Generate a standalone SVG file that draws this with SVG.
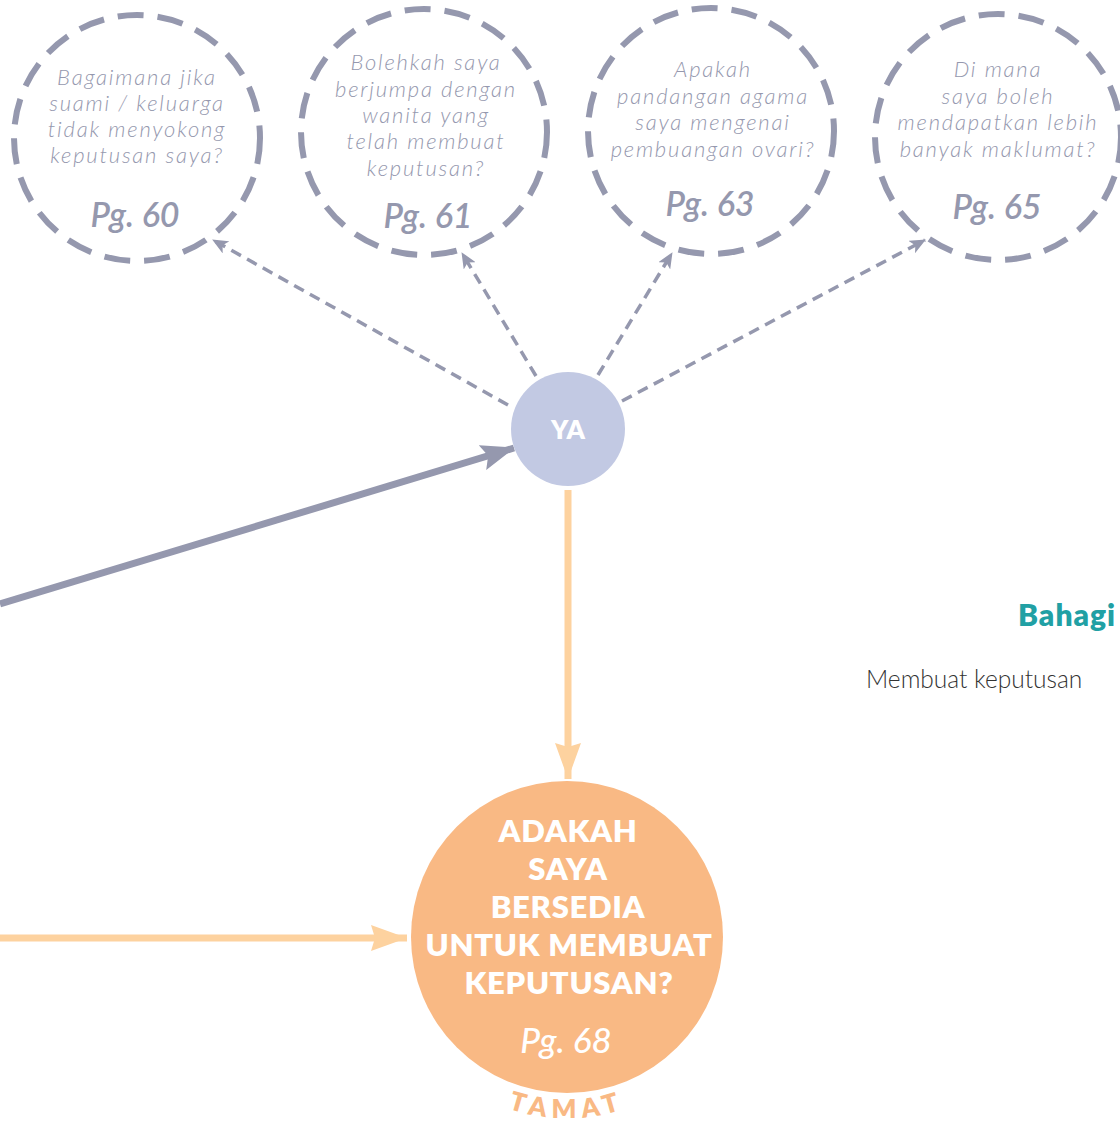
<svg xmlns="http://www.w3.org/2000/svg" width="1120" height="1121" viewBox="0 0 1120 1121">
<defs>
<style>
.q{fill:none;stroke:#9598ae;stroke-width:6;stroke-dasharray:26 14}
.qt{font-family:Lato,"Open Sans",sans-serif;font-style:italic;font-weight:300;font-size:22px;fill:#9598ae;text-anchor:middle;letter-spacing:1.8px}
.pg{font-family:Lato,"Open Sans",sans-serif;font-style:italic;font-weight:600;font-size:34px;fill:#9598ae;text-anchor:middle}
.dl{fill:none;stroke:#9598ae;stroke-width:3.5;stroke-dasharray:11 7}
.big{font-family:Lato,"Open Sans",sans-serif;font-weight:800;font-size:31px;fill:#fff;text-anchor:middle;letter-spacing:0.7px}
</style>
<marker id="ad" markerWidth="16" markerHeight="14" refX="15" refY="7" orient="auto" markerUnits="userSpaceOnUse"><path d="M0,0 L16,7 L0,14 L4,7 Z" fill="#9598ae"/></marker>
<marker id="ag" markerWidth="34" markerHeight="26" refX="33" refY="13" orient="auto" markerUnits="userSpaceOnUse"><path d="M0,0 L34,13 L0,26 L6,13 Z" fill="#9598ae"/></marker>
<marker id="ao" markerWidth="36" markerHeight="26" refX="36" refY="13" orient="auto" markerUnits="userSpaceOnUse"><path d="M0,0 L36,13 L0,26 L4,13 Z" fill="#fdd29f"/></marker>
<path id="arc" d="M467,1088 A180,180 0 0 0 667,1088"/>
</defs>
<rect width="1120" height="1121" fill="#fff"/>
<g id="connectors">
<line x1="508" y1="405" x2="213" y2="240" class="dl" marker-end="url(#ad)"/>
<line x1="536" y1="376" x2="462" y2="253" class="dl" marker-end="url(#ad)"/>
<line x1="598" y1="375" x2="672" y2="253" class="dl" marker-end="url(#ad)"/>
<line x1="622" y1="401" x2="925" y2="240" class="dl" marker-end="url(#ad)"/>
<line x1="0" y1="604" x2="514" y2="448" stroke="#9598ae" stroke-width="7" marker-end="url(#ag)"/>
<line x1="568" y1="490" x2="568" y2="779" stroke="#fdd29f" stroke-width="7" marker-end="url(#ao)"/>
<line x1="0" y1="938" x2="407" y2="938" stroke="#fdd29f" stroke-width="7" marker-end="url(#ao)"/>
</g>
<g id="q60">
<circle cx="137" cy="138" r="123" class="q"/>
<text class="qt"><tspan x="137" y="85">Bagaimana jika</tspan><tspan x="137" y="111">suami / keluarga</tspan><tspan x="137" y="137">tidak menyokong</tspan><tspan x="137" y="163">keputusan saya?</tspan></text>
<text class="pg" x="135" y="227">Pg. 60</text>
</g>
<g id="q61">
<circle cx="424" cy="132" r="123" class="q"/>
<text class="qt"><tspan x="426" y="70">Bolehkah saya</tspan><tspan x="426" y="97">berjumpa dengan</tspan><tspan x="426" y="123">wanita yang</tspan><tspan x="426" y="149">telah membuat</tspan><tspan x="426" y="176">keputusan?</tspan></text>
<text class="pg" x="428" y="228">Pg. 61</text>
</g>
<g id="q63">
<circle cx="711" cy="131" r="123" class="q"/>
<text class="qt"><tspan x="713" y="77">Apakah</tspan><tspan x="713" y="104">pandangan agama</tspan><tspan x="713" y="130">saya mengenai</tspan><tspan x="713" y="157">pembuangan ovari?</tspan></text>
<text class="pg" x="710" y="216">Pg. 63</text>
</g>
<g id="q65">
<circle cx="998" cy="137" r="123" class="q"/>
<text class="qt"><tspan x="998" y="77">Di mana</tspan><tspan x="998" y="104">saya boleh</tspan><tspan x="998" y="130">mendapatkan lebih</tspan><tspan x="998" y="157">banyak maklumat?</tspan></text>
<text class="pg" x="997" y="219">Pg. 65</text>
</g>
<g id="ya">
<circle cx="568" cy="429" r="57" fill="#c2c9e3"/>
<text x="568" y="439" font-family="Lato,'Open Sans',sans-serif" font-weight="800" font-size="26" fill="#fff" text-anchor="middle">YA</text>
</g>
<g id="ready">
<circle cx="567" cy="937" r="156" fill="#f9b984"/>
<text class="big"><tspan x="568" y="842">ADAKAH</tspan><tspan x="568" y="880">SAYA</tspan><tspan x="568" y="918">BERSEDIA</tspan><tspan x="569" y="956">UNTUK MEMBUAT</tspan><tspan x="569" y="994">KEPUTUSAN?</tspan></text>
<text x="566" y="1053" font-family="Lato,'Open Sans',sans-serif" font-style="italic" font-weight="500" font-size="35" fill="#fff" text-anchor="middle">Pg. 68</text>
<text font-family="Lato,'Open Sans',sans-serif" font-weight="800" font-size="26" fill="#f9b984" letter-spacing="6"><textPath href="#arc" startOffset="50%" text-anchor="middle">TAMAT</textPath></text>
</g>
<g id="section">
<text x="1018" y="626" font-family="Lato,'Open Sans',sans-serif" font-weight="800" font-size="30" fill="#21a0a4" letter-spacing="1">Bahagi</text>
<text x="866" y="688" font-family="Lato,'Open Sans',sans-serif" font-weight="300" font-size="24.5" fill="#333">Membuat keputusan</text>
</g>
</svg>
